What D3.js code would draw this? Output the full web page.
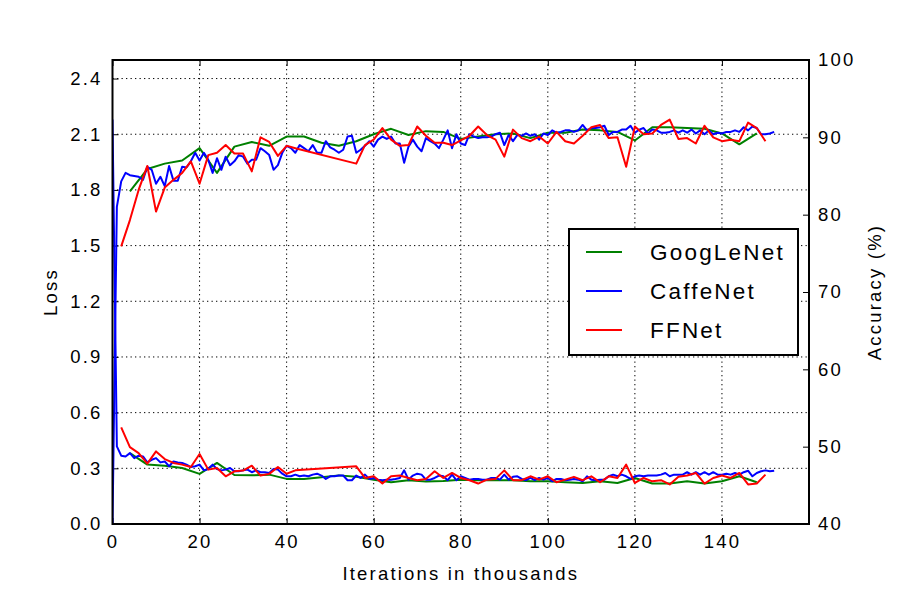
<!DOCTYPE html>
<html>
<head>
<meta charset="utf-8">
<script src="https://cdn.jsdelivr.net/npm/d3@7"></script>
<style>
  body { margin: 0; background: #fff; }
  svg { font-family: "Liberation Sans", Arial, sans-serif; }
  .axis text { font-size: 18.5px; letter-spacing: 2.2px; fill: #000; }
  .axis path { display: none; }
  .axis line { stroke: #000; stroke-width: 1; }
  .grid line { stroke: #000; stroke-width: 1; stroke-dasharray: 1.3,3.2; }
  .label { font-size: 18.5px; letter-spacing: 2.2px; }
  .legend text { font-size: 22.5px; letter-spacing: 2.2px; }
</style>
</head>
<body>
<script>

// ---- data ----
var xTicks = [0, 20, 40, 60, 80, 100, 120, 140];
var lossTicks = [0.0, 0.3, 0.6, 0.9, 1.2, 1.5, 1.8, 2.1, 2.4];
var accTicks = [40, 50, 60, 70, 80, 90, 100];
var netNames = ["GoogLeNet", "CaffeNet", "FFNet"];
var netColors = ["#008000", "#0000ff", "#ff0000"];

// GoogLeNet, tested every 4k iterations
var googIters = [4, 8, 12, 16, 20, 24, 28, 32, 36, 40, 44, 48, 52, 56, 60, 64, 68, 72, 76,
  80, 84, 88, 92, 96, 100, 104, 108, 112, 116, 120, 124, 128, 132, 136, 140, 144, 148];
var googLoss = [0.382, 0.320, 0.314, 0.302, 0.270, 0.329, 0.264, 0.262, 0.266, 0.243, 0.243,
  0.252, 0.262, 0.254, 0.239, 0.225, 0.236, 0.229, 0.232, 0.239, 0.236, 0.236, 0.236, 0.230,
  0.230, 0.225, 0.221, 0.230, 0.221, 0.248, 0.218, 0.218, 0.230, 0.218, 0.230, 0.257, 0.225];
var googAcc = [83.0, 85.9, 86.6, 87.0, 88.6, 85.4, 88.8, 89.4, 88.9, 90.1, 90.1, 89.3, 88.9,
  89.5, 90.4, 91.1, 90.3, 90.8, 90.7, 89.8, 90.1, 90.4, 90.5, 89.9, 90.6, 90.6, 91.0, 90.9,
  90.7, 89.6, 91.3, 91.3, 91.2, 91.1, 90.5, 89.1, 90.5];

// CaffeNet, tested every 1k iterations
var caffeIters = [0, 1, 2, 3, 4, 5, 6, 7, 8, 9, 10, 11, 12, 13, 14, 15, 16, 17, 18, 19, 20,
  21, 22, 23, 24, 25, 26, 27, 28, 29, 30, 31, 32, 33, 34, 35, 36, 37, 38, 39, 40, 41, 42, 43,
  44, 45, 46, 47, 48, 49, 50, 51, 52, 53, 54, 55, 56, 57, 58, 59, 60, 61, 62, 63, 64, 65, 66,
  67, 68, 69, 70, 71, 72, 73, 74, 75, 76, 77, 78, 79, 80, 81, 82, 83, 84, 85, 86, 87, 88, 89,
  90, 91, 92, 93, 94, 95, 96, 97, 98, 99, 100, 101, 102, 103, 104, 105, 106, 107, 108, 109,
  110, 111, 112, 113, 114, 115, 116, 117, 118, 119, 120, 121, 122, 123, 124, 125, 126, 127,
  128, 129, 130, 131, 132, 133, 134, 135, 136, 137, 138, 139, 140, 141, 142, 143, 144, 145,
  146, 147, 148, 149, 150, 151, 152];
var caffeLoss = [2.18, 0.418, 0.368, 0.364, 0.382, 0.355, 0.368, 0.364, 0.332, 0.346, 0.355,
  0.332, 0.337, 0.311, 0.337, 0.332, 0.329, 0.320, 0.307, 0.311, 0.320, 0.289, 0.296, 0.320,
  0.296, 0.289, 0.293, 0.302, 0.284, 0.284, 0.289, 0.293, 0.279, 0.289, 0.279, 0.279, 0.275,
  0.296, 0.293, 0.271, 0.257, 0.257, 0.266, 0.257, 0.261, 0.257, 0.266, 0.271, 0.261, 0.243,
  0.257, 0.257, 0.261, 0.261, 0.236, 0.236, 0.261, 0.248, 0.266, 0.243, 0.248, 0.239, 0.236,
  0.239, 0.239, 0.243, 0.248, 0.289, 0.239, 0.261, 0.271, 0.266, 0.239, 0.239, 0.248, 0.261,
  0.257, 0.236, 0.266, 0.236, 0.257, 0.248, 0.239, 0.243, 0.243, 0.239, 0.239, 0.248, 0.248,
  0.239, 0.266, 0.239, 0.254, 0.257, 0.243, 0.236, 0.248, 0.236, 0.248, 0.239, 0.248, 0.230,
  0.243, 0.243, 0.236, 0.239, 0.243, 0.239, 0.230, 0.257, 0.239, 0.236, 0.239, 0.239, 0.257,
  0.266, 0.257, 0.266, 0.257, 0.243, 0.257, 0.261, 0.257, 0.261, 0.261, 0.261, 0.266, 0.275,
  0.257, 0.266, 0.266, 0.266, 0.279, 0.266, 0.279, 0.266, 0.279, 0.266, 0.279, 0.266, 0.266,
  0.271, 0.266, 0.275, 0.266, 0.279, 0.287, 0.257, 0.275, 0.284, 0.289, 0.284, 0.287];
var caffeAcc = [40.0, 81.0, 84.3, 85.4, 85.1, 85.0, 84.9, 84.5, 86.2, 85.8, 84.0, 84.9, 83.7,
  86.3, 84.4, 84.4, 86.2, 86.1, 86.9, 88.0, 87.0, 88.0, 87.1, 85.4, 87.3, 85.8, 87.5, 86.4,
  86.9, 87.7, 87.5, 86.6, 87.1, 87.1, 88.6, 88.2, 87.7, 85.8, 86.4, 88.0, 88.9, 88.6, 88.0,
  89.0, 88.6, 88.2, 89.0, 88.0, 88.0, 89.5, 88.7, 88.4, 88.0, 88.4, 90.1, 90.2, 88.0, 88.4,
  88.9, 89.5, 88.8, 89.7, 90.1, 89.8, 90.1, 89.2, 89.2, 86.7, 88.8, 89.7, 88.8, 88.2, 89.9,
  89.5, 89.2, 88.6, 89.7, 90.9, 88.6, 90.4, 89.2, 89.0, 90.4, 90.1, 89.9, 90.0, 90.0, 90.1,
  90.4, 90.6, 89.0, 90.3, 89.5, 90.3, 90.2, 90.5, 90.2, 90.4, 89.7, 90.5, 90.3, 90.9, 90.6,
  90.7, 90.9, 90.9, 90.7, 90.9, 91.6, 90.9, 91.2, 91.2, 91.3, 91.5, 90.3, 90.7, 90.7, 91.0,
  91.0, 91.5, 90.6, 91.0, 91.2, 90.5, 91.0, 90.9, 90.6, 90.6, 90.7, 90.9, 90.6, 90.9, 90.6,
  91.0, 90.5, 90.9, 90.4, 90.9, 90.4, 90.6, 90.5, 90.7, 90.7, 90.9, 90.7, 91.3, 90.9, 91.4,
  91.2, 90.4, 90.4, 90.5, 90.7];

// FFNet, tested every 2k iterations (gap between 42k and 56k)
var ffIters = [2, 4, 6, 8, 10, 12, 14, 16, 18, 20, 22, 24, 26, 28, 30, 32, 34, 36, 38, 40, 42,
  56, 58, 60, 62, 64, 66, 68, 70, 72, 74, 76, 78, 80, 82, 84, 86, 88, 90, 92, 94, 96, 98, 100,
  102, 104, 106, 108, 110, 112, 114, 116, 118, 120, 122, 124, 126, 128, 130, 132, 134, 136,
  138, 140, 142, 144, 146, 148, 150];
var ffLoss = [0.521, 0.414, 0.382, 0.325, 0.391, 0.350, 0.329, 0.320, 0.307, 0.377, 0.293,
  0.302, 0.257, 0.284, 0.288, 0.314, 0.261, 0.270, 0.307, 0.271, 0.289, 0.311, 0.248, 0.257,
  0.218, 0.257, 0.261, 0.248, 0.236, 0.243, 0.284, 0.248, 0.275, 0.248, 0.236, 0.218, 0.239,
  0.243, 0.289, 0.236, 0.236, 0.257, 0.239, 0.257, 0.225, 0.239, 0.254, 0.236, 0.257, 0.225,
  0.257, 0.248, 0.320, 0.221, 0.248, 0.230, 0.236, 0.213, 0.254, 0.261, 0.275, 0.218, 0.248,
  0.261, 0.248, 0.275, 0.213, 0.218, 0.266];
var ffAcc = [75.9, 79.3, 83.2, 86.3, 80.4, 83.5, 84.5, 85.4, 86.9, 84.0, 87.7, 88.0, 89.0,
  87.9, 87.9, 85.6, 90.0, 89.4, 87.6, 88.9, 88.6, 86.6, 89.0, 89.7, 91.2, 89.7, 88.9, 89.0,
  91.4, 90.2, 89.3, 89.3, 89.0, 89.6, 90.2, 91.4, 90.3, 89.7, 87.5, 91.0, 89.9, 89.5, 90.1,
  89.2, 90.7, 89.5, 89.2, 90.2, 91.3, 91.6, 89.9, 90.0, 86.2, 91.4, 90.4, 90.5, 91.6, 92.3,
  89.8, 89.9, 89.2, 91.5, 90.0, 89.5, 89.7, 89.5, 91.9, 91.2, 89.5];

function zipSeries(iters, vals) {
  return iters.map(function(it, i) { return {x: it, y: vals[i]}; });
}

function showChart() {

  var margin = {top: 60, right: 91, bottom: 76, left: 112.5}
    , width = 900 - margin.left - margin.right
    , height = 600 - margin.top - margin.bottom;

  var svg = d3.select("body").append("svg")
      .attr("width", 900)
      .attr("height", 600);
  var g = svg.append("g")
      .attr("transform", "translate(" + margin.left + "," + margin.top + ")");

  var xScale = d3.scaleLinear().domain([0, 160]).range([0, width]);
  var yLoss = d3.scaleLinear().domain([0, 2.5]).range([height, 0]);
  var yAcc = d3.scaleLinear().domain([40, 100]).range([height, 0]);

  // dotted grid
  var grid = g.append("g").attr("class", "grid");
  grid.selectAll(".gx").data(xTicks).enter().append("line")
      .attr("x1", function(d) { return xScale(d); })
      .attr("x2", function(d) { return xScale(d); })
      .attr("y1", 0).attr("y2", height);
  grid.selectAll(".gy").data(lossTicks).enter().append("line")
      .attr("x1", 0).attr("x2", width)
      .attr("y1", function(d) { return yLoss(d); })
      .attr("y2", function(d) { return yLoss(d); });

  // ticks point inward, like the old matplotlib style
  g.append("g")
      .attr("class", "axis")
      .attr("transform", "translate(0," + height + ")")
      .call(d3.axisBottom(xScale).tickValues(xTicks).tickFormat(d3.format("d"))
        .tickSizeInner(-6).tickSizeOuter(0).tickPadding(11));
  g.append("g")
      .attr("class", "axis")
      .call(d3.axisTop(xScale).tickValues(xTicks).tickFormat("")
        .tickSizeInner(-6).tickSizeOuter(0));
  g.append("g")
      .attr("class", "axis")
      .call(d3.axisLeft(yLoss).tickValues(lossTicks).tickFormat(d3.format(".1f"))
        .tickSizeInner(-6).tickSizeOuter(0).tickPadding(10));
  g.append("g")
      .attr("class", "axis")
      .attr("transform", "translate(" + width + ",0)")
      .call(d3.axisRight(yAcc).tickValues(accTicks).tickFormat(d3.format("d"))
        .tickSizeInner(-6).tickSizeOuter(0).tickPadding(9));

  // keep the curves inside the axes box
  svg.append("defs").append("clipPath").attr("id", "plotclip")
    .append("rect").attr("width", width).attr("height", height);

  var lossLine = d3.line()
      .x(function(d) { return xScale(d.x); })
      .y(function(d) { return yLoss(d.y); });
  var accLine = d3.line()
      .x(function(d) { return xScale(d.x); })
      .y(function(d) { return yAcc(d.y); });

  var series = [
    {loss: zipSeries(googIters, googLoss), acc: zipSeries(googIters, googAcc), color: netColors[0]},
    {loss: zipSeries(caffeIters, caffeLoss), acc: zipSeries(caffeIters, caffeAcc), color: netColors[1]},
    {loss: zipSeries(ffIters, ffLoss), acc: zipSeries(ffIters, ffAcc), color: netColors[2]}
  ];

  var lines = g.append("g").attr("clip-path", "url(#plotclip)");
  series.forEach(function(s) {
    lines.append("path")
        .datum(s.loss)
        .attr("fill", "none")
        .attr("stroke", s.color)
        .attr("stroke-width", 2)
        .attr("stroke-linejoin", "round")
        .attr("d", lossLine);
    lines.append("path")
        .datum(s.acc)
        .attr("fill", "none")
        .attr("stroke", s.color)
        .attr("stroke-width", 2)
        .attr("stroke-linejoin", "round")
        .attr("d", accLine);
  });

  // axes frame
  g.append("rect")
      .attr("width", width)
      .attr("height", height)
      .attr("fill", "none")
      .attr("stroke", "#000")
      .attr("stroke-width", 2);

  // axis titles
  g.append("text")
      .attr("class", "label")
      .attr("x", width / 2)
      .attr("y", height + 56)
      .attr("text-anchor", "middle")
      .text("Iterations in thousands");
  g.append("text")
      .attr("class", "label")
      .attr("transform", "translate(" + (-56) + "," + (height / 2) + ") rotate(-90)")
      .attr("text-anchor", "middle")
      .text("Loss");
  g.append("text")
      .attr("class", "label")
      .attr("transform", "translate(" + (width + 72) + "," + (height / 2) + ") rotate(-90)")
      .attr("text-anchor", "middle")
      .text("Accuracy (%)");

  // legend box
  var legend = g.append("g")
      .attr("class", "legend")
      .attr("transform", "translate(" + (569 - margin.left) + "," + (229 - margin.top) + ")");
  legend.append("rect")
      .attr("width", 229)
      .attr("height", 126)
      .attr("fill", "#fff")
      .attr("stroke", "#000")
      .attr("stroke-width", 2);
  var item = legend.selectAll(".item")
      .data(netNames)
      .enter().append("g")
      .attr("transform", function(d, i) { return "translate(0," + (23 + i * 39) + ")"; });
  item.append("line")
      .attr("x1", 17).attr("x2", 53)
      .attr("stroke", function(d, i) { return netColors[i]; })
      .attr("stroke-width", 2);
  item.append("text")
      .attr("x", 81)
      .attr("dy", "0.36em")
      .text(function(d) { return d; });
}

showChart();
</script>
</body>
</html>
